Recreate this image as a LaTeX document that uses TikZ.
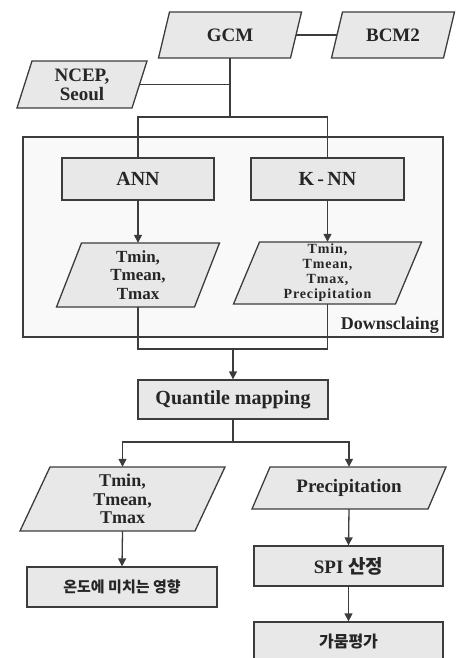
\documentclass[tikz,border=0pt]{standalone}
\usepackage{fontspec}
\setmainfont{Liberation Serif}
\newfontfamily\kr{Noto Sans CJK KR}
\usetikzlibrary{arrows.meta}
\definecolor{ln}{HTML}{3C3C3C}
\definecolor{fillg}{HTML}{E8E8E8}
\definecolor{boxg}{HTML}{F9F9F9}
\definecolor{txt}{HTML}{262626}
\newcommand\fs[2]{\fontsize{#1}{#2}\selectfont\bfseries}
% name, cx, cy, w, h, slant, font, text
\newcommand\paranode[8]{%
  \filldraw[fill=fillg, draw=ln, line width=1.3pt]
    ({#2-#4/2-#6/2},{#3+#5/2}) -- ({#2+#4/2-#6/2},{#3+#5/2}) --
    ({#2+#4/2+#6/2},{#3-#5/2}) -- ({#2-#4/2+#6/2},{#3-#5/2}) -- cycle;
  \node[lbl, minimum width=#4pt, minimum height=#5pt, font=#7] (#1) at (#2,#3) {#8};}
\tikzset{
  lbl/.style={inner sep=0pt, draw=none, text=txt, align=center},
  rbox/.style={lbl, draw=ln, fill=fillg, line width=1.3pt},
  conn/.style={draw=ln, line width=1.3pt},
  arr/.style={conn, -{Triangle[length=8pt,width=8pt]}}
}
\begin{document}
\begin{tikzpicture}[x=1pt,y=-1pt]
\useasboundingbox (0,0) rectangle (457,658);
\clip (0,0) rectangle (457,658);
% downscaling frame
\filldraw[fill=boxg, draw=ln, line width=1.3pt] (23,137) rectangle (443,337);
\node[lbl, anchor=base east, font=\fs{18}{18}] (dlab) at (439,329) {Downsclaing};
% inputs
\paranode{gcm}{230}{35}{132}{46}{11}{\fs{19}{19}}{GCM}
\paranode{bcm}{393}{35}{112}{46}{11}{\fs{19}{19}}{BCM2}
\paranode{ncep}{82}{84.5}{115}{47}{15}{\fs{19}{19}}{NCEP,\\Seoul}
% downscaling methods
\node[rbox, minimum width=152pt, minimum height=42pt, font=\fs{20}{20}] (ann) at (138,179) {ANN};
\node[rbox, minimum width=153pt, minimum height=42pt, font=\fs{20}{20}] (knn) at (327.5,179) {K\,-\,NN};
\paranode{tl}{138}{275}{138}{64}{25}{\fs{17}{18.5}}{Tmin,\\Tmean,\\Tmax}
\paranode{tr}{327.5}{273}{162}{62}{26}{\fs{14}{15}\addfontfeatures{LetterSpace=6}}{Tmin,\\Tmean,\\Tmax,\\Precipitation}
% quantile mapping
\node[rbox, minimum width=190pt, minimum height=39pt, font=\fs{20}{20}] (qm) at (233,399.5) {Quantile mapping};
% outputs
\paranode{bl}{122.5}{499}{175}{64}{30}{\fs{18}{18.5}}{Tmin,\\Tmean,\\Tmax}
\paranode{pr}{349}{488}{176}{42}{18}{\fs{19}{19}}{Precipitation}
\node[rbox, minimum width=190pt, minimum height=40pt, font=\kr\fs{15}{15}] (temp) at (122,587) {온도에 미치는 영향};
\node[rbox, minimum width=189pt, minimum height=40pt, font=\fs{19}{19}] (spi) at (348.5,566) {SPI {\kr 산정}};
\node[rbox, minimum width=189pt, minimum height=40pt, font=\kr\fs{16}{16}] (drought) at (348.5,642) {가뭄평가};
% junctions
\coordinate (j1) at (230,117);
\coordinate (j2) at (233,349);
\coordinate (j3) at (233,442);
% connectors
\draw[conn] (gcm.east) -- (bcm.west);
\draw[conn] (gcm.south) -- (j1);
\draw[conn] (ncep.east) -- (ncep.east -| j1);
\draw[conn] (ann.north) -- (ann.north |- j1) -- (knn.north |- j1) -- (knn.north);
\draw[arr] (ann.south) -- (tl.north);
\draw[arr] (knn.south) -- (tr.north);
\draw[conn] (tl.south) -- (tl.south |- j2) -- (tr.south |- j2) -- (tr.south);
\draw[arr] (j2) -- (qm.north);
\draw[conn] (qm.south) -- (j3);
\draw[arr] (j3) -| (bl.north);
\draw[arr] (j3) -| (pr.north);
\draw[arr] (bl.south) -- (temp.north);
\draw[arr] (pr.south) -- (spi.north);
\draw[arr] (spi.south) -- (drought.north);
\end{tikzpicture}
\end{document}
